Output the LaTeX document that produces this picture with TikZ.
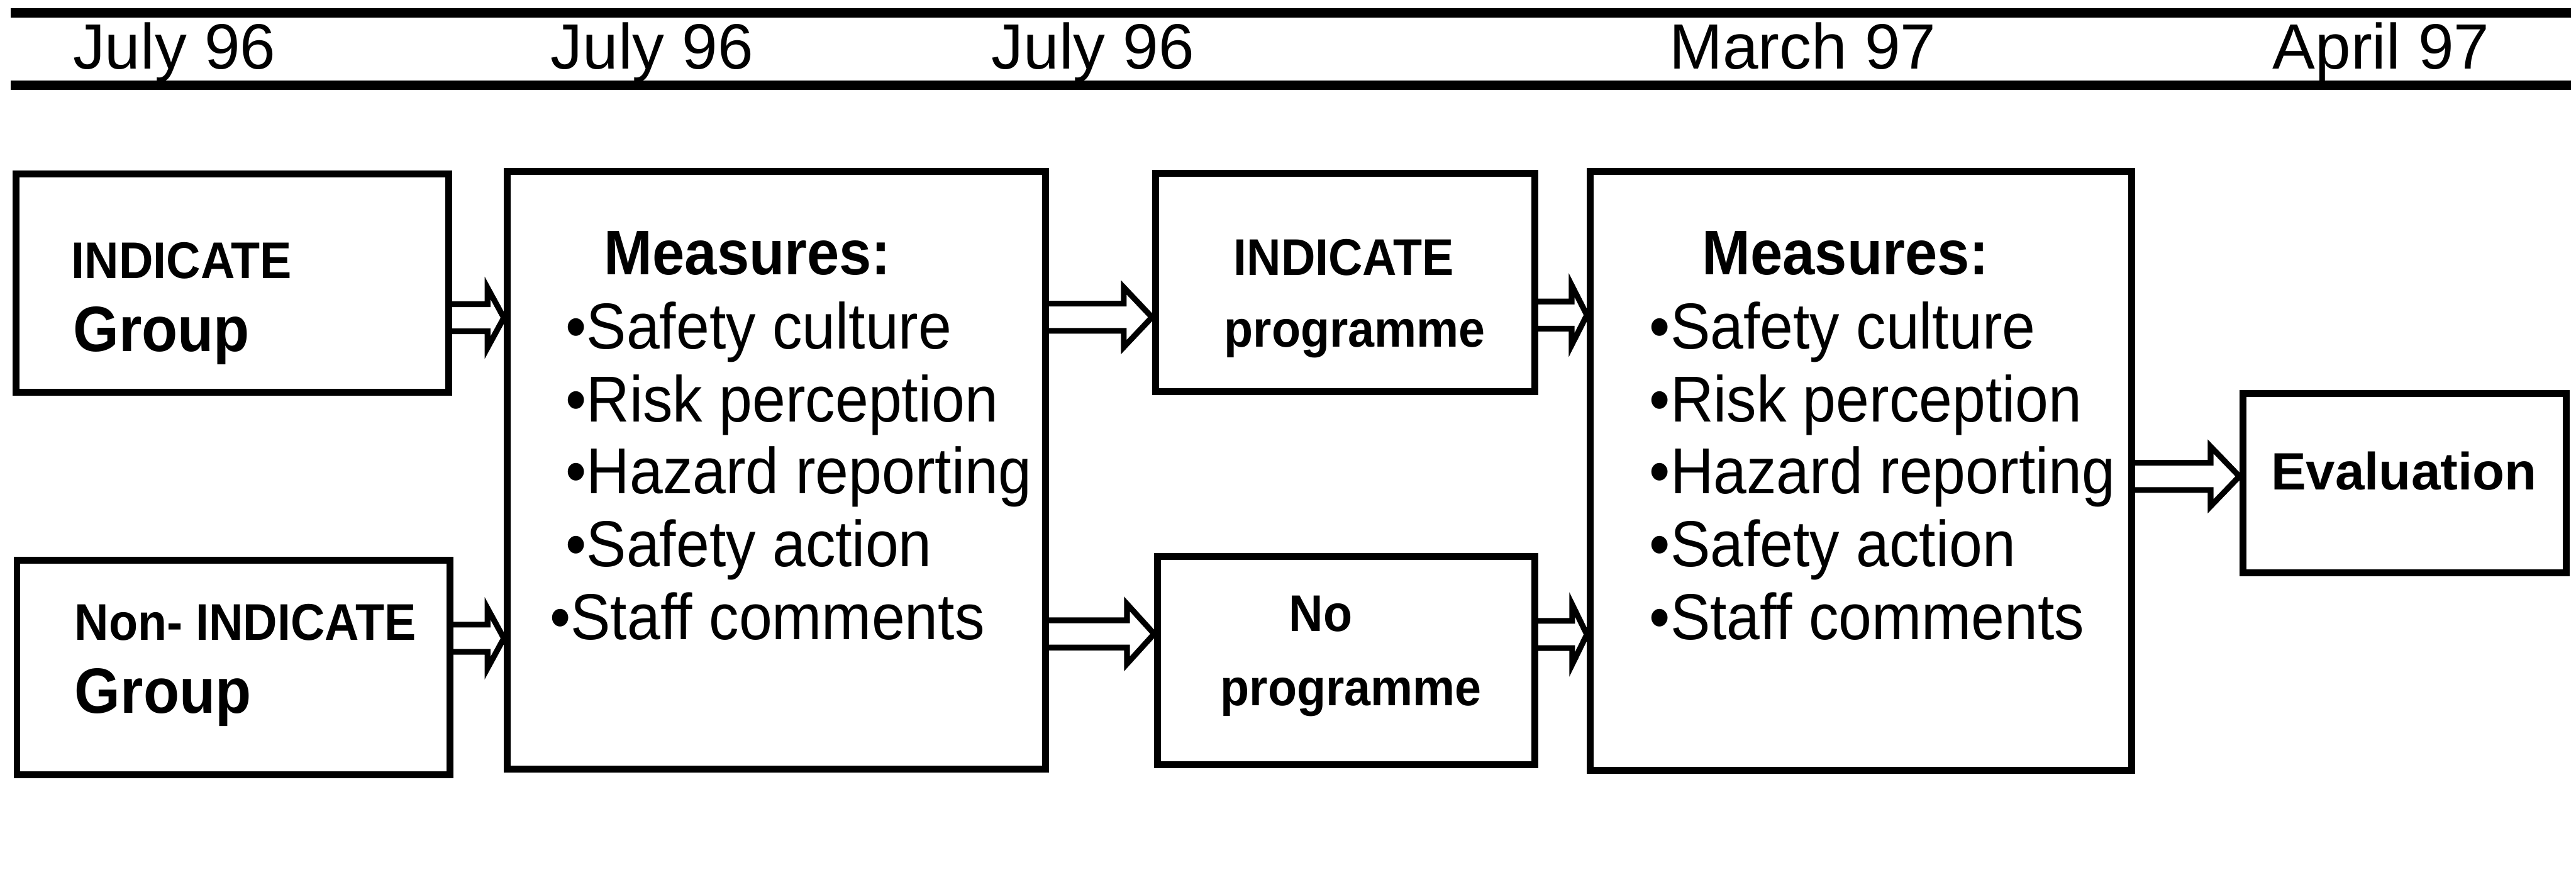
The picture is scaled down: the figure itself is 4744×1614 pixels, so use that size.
\documentclass[tikz,border=0pt]{standalone}
\usepackage{fontspec}
\setmainfont{Liberation Sans}
\newfontfamily\narrowsans[FakeStretch=0.92]{Liberation Sans}
\usetikzlibrary{calc}

% open double-line block arrow: source node, target node, y level, head length
\newcommand\flowarrow[4]{%
  \path (#1.east |- 0,#3) coordinate (s) (#2.west |- 0,#3) coordinate (t);
  \draw[dblarrow] ($(s)+(0,-25)$) -- ($(t)+(-#4,-25)$) -- ($(t)+(-#4,-55)$)
    -- (t) -- ($(t)+(-#4,55)$) -- ($(t)+(-#4,25)$) -- ($(s)+(0,25)$);
}

\begin{document}
\begin{tikzpicture}[x=0.01cm,y=-0.01cm,
  box/.style={draw, line width=3.6pt, inner sep=0pt},
  txt/.style={inner sep=0pt, anchor=base west},
  ctxt/.style={inner sep=0pt, anchor=base},
  rule/.style={line width=5pt},
  dblarrow/.style={line width=3pt, line join=miter},
  hdr/.style={ctxt, font=\fontsize{33.5}{40}\selectfont},
  item/.style={txt, font=\narrowsans\fontsize{34}{40}\selectfont},
  mhead/.style={txt, font=\narrowsans\bfseries\fontsize{33}{40}\selectfont},
  lab/.style={txt, font=\narrowsans\bfseries\fontsize{27}{32}\selectfont},
  clab/.style={ctxt, font=\narrowsans\bfseries\fontsize{27}{32}\selectfont},
  biglab/.style={txt, font=\narrowsans\bfseries\fontsize{33.5}{40}\selectfont},
]
\useasboundingbox (0,0) rectangle (4744,1614);

% timeline rules
\coordinate (rl1) at (20,24);  \coordinate (rr1) at (4735,24);
\coordinate (rl2) at (20,157); \coordinate (rr2) at (4735,157);
\draw[rule] (rl1) -- (rr1);
\draw[rule] (rl2) -- (rr2);

% dates
\node[hdr] (d1) at (321,127)  {July 96};
\node[hdr] (d2) at (1201,127) {July 96};
\node[hdr] (d3) at (2013,127) {July 96};
\node[hdr] (d4) at (3320,127) {March 97};
\node[hdr] (d5) at (4385,127) {April 97};

% boxes
\node[box, minimum width=7.96cm, minimum height=4.02cm] (A) at (428,521) {};
\node[box, minimum width=7.97cm, minimum height=3.94cm] (C) at (430,1229) {};
\node[box, minimum width=9.91cm, minimum height=11.0cm] (B) at (1430,866) {};
\node[box, minimum width=6.98cm, minimum height=4.01cm] (D) at (2477,520) {};
\node[box, minimum width=6.94cm, minimum height=3.83cm] (E) at (2479,1216) {};
\node[box, minimum width=9.96cm, minimum height=11.02cm] (F) at (3427,867) {};
\node[box, minimum width=5.95cm, minimum height=3.30cm] (G) at (4428,889) {};

% group labels
\node[lab]    (a1) at (131,513)  {INDICATE};
\node[biglab] (a2) at (134,647)  {Group};
\node[lab]    (c1) at (137,1179) {Non- INDICATE};
\node[biglab] (c2) at (137,1313) {Group};

% first measures
\node[mhead] (b0) at (1112,506) {Measures:};
\node[item]  (b1) at (1041,642)  {•Safety culture};
\node[item]  (b2) at (1041,776)  {•Risk perception};
\node[item]  (b3) at (1041,909)  {•Hazard reporting};
\node[item]  (b4) at (1041,1043) {•Safety action};
\node[item]  (b5) at (1012,1177) {•Staff comments};

% programmes
\node[clab] (p1) at (2475,507)  {INDICATE};
\node[clab] (p2) at (2495,639)  {programme};
\node[clab] (n1) at (2432,1162) {No};
\node[clab] (n2) at (2488,1299) {programme};

% second measures
\node[mhead] (f0) at (3134,506) {Measures:};
\node[item]  (f1) at (3037,642)  {•Safety culture};
\node[item]  (f2) at (3037,776)  {•Risk perception};
\node[item]  (f3) at (3037,909)  {•Hazard reporting};
\node[item]  (f4) at (3037,1043) {•Safety action};
\node[item]  (f5) at (3037,1177) {•Staff comments};

% evaluation
\node[ctxt, font=\bfseries\fontsize{27.5}{33}\selectfont] (g1) at (4427,902) {Evaluation};

% flow arrows
\flowarrow{A}{B}{585}{30}
\flowarrow{C}{B}{1175}{30}
\flowarrow{B}{D}{584}{52}
\flowarrow{B}{E}{1167}{50}
\flowarrow{D}{F}{580}{28}
\flowarrow{E}{F}{1168}{27}
\flowarrow{F}{G}{877}{53}
\end{tikzpicture}
\end{document}
